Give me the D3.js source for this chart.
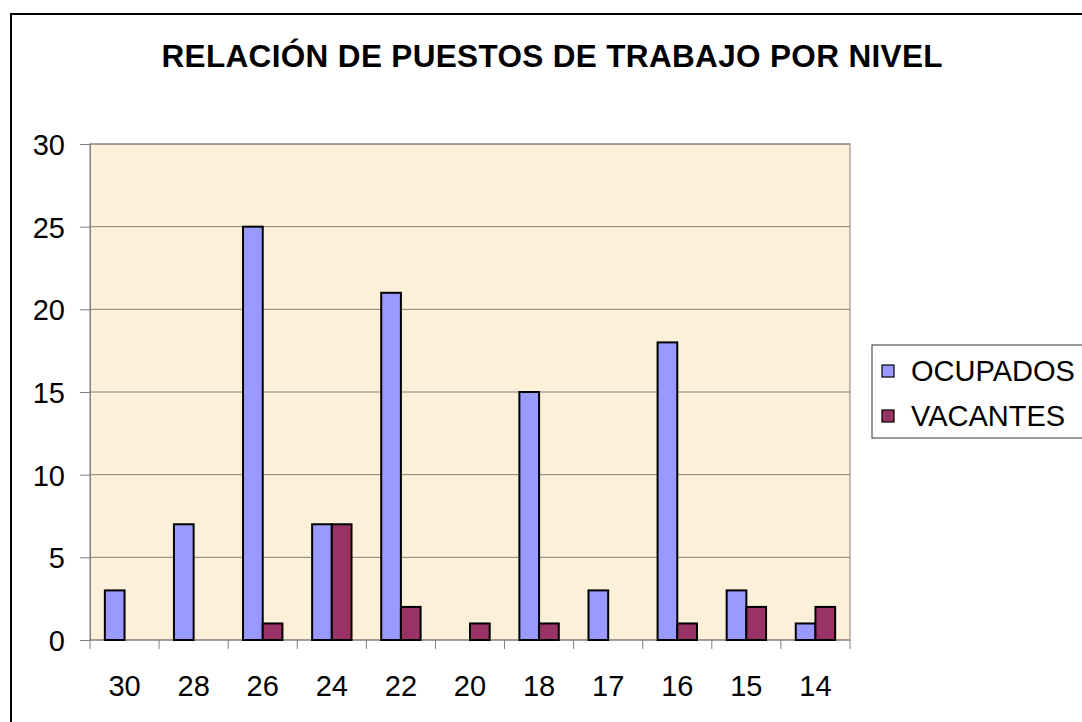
<!DOCTYPE html>
<html>
<head>
<meta charset="utf-8">
<script src="https://cdn.jsdelivr.net/npm/d3@7"></script>
<style>
  body { margin: 0; background: #fff; }
  text { font-family: "Liberation Sans", Arial, sans-serif; fill: #000; }
</style>
</head>
<body>
<div id="vis"></div>
<script>
// chart data
var niveles = ["30", "28", "26", "24", "22", "20", "18", "17", "16", "15", "14"];
var ocupados = [3, 7, 25, 7, 21, 0, 15, 3, 18, 3, 1];
var vacantes = [0, 0, 1, 7, 2, 1, 1, 0, 1, 2, 2];
var yTicks = [0, 5, 10, 15, 20, 25, 30];
var seriesNames = ["OCUPADOS", "VACANTES"];
var seriesColors = ["#9999FF", "#993366"];

var W = 1082, H = 722;
var pl = 90, pr = 850, pt = 144, pb = 640;  // plot area edges

var svg = d3.select("#vis").append("svg")
  .attr("width", W)
  .attr("height", H);

// outer chart border
svg.append("rect")
  .attr("x", 11).attr("y", 14)
  .attr("width", W + 20).attr("height", H + 20)
  .attr("fill", "#fff")
  .attr("stroke", "#000")
  .attr("stroke-width", 2);

// title
svg.append("text")
  .attr("x", 552).attr("y", 67)
  .attr("text-anchor", "middle")
  .attr("font-weight", "bold")
  .attr("font-size", 31.5)
  .attr("textLength", 781)
  .attr("lengthAdjust", "spacing")
  .text("RELACIÓN DE PUESTOS DE TRABAJO POR NIVEL");

var x = d3.scaleBand().domain(niveles).range([pl, pr]);
var y = d3.scaleLinear().domain([0, 30]).range([pb, pt]);

// plot background
svg.append("rect")
  .attr("x", pl).attr("y", pt)
  .attr("width", pr - pl).attr("height", pb - pt)
  .attr("fill", "#FCF0D9")
  .attr("stroke", "#808080")
  .attr("stroke-width", 1);

// gridlines
svg.append("g").selectAll("line")
  .data(yTicks.filter(function(d){ return d > 0; }))
  .enter().append("line")
  .attr("x1", pl).attr("x2", pr)
  .attr("y1", function(d){ return y(d); })
  .attr("y2", function(d){ return y(d); })
  .attr("stroke", "#808080")
  .attr("stroke-width", 1);

// y axis
var yAxis = d3.axisLeft(y).tickValues(yTicks).tickSize(10).tickPadding(14);
var gy = svg.append("g").attr("transform", "translate(" + pl + ",0)").call(yAxis);
gy.select(".domain").attr("stroke", "#808080");
gy.selectAll(".tick line").attr("stroke", "#808080");
gy.selectAll("text").attr("font-size", 29).attr("dy", "0.36em").attr("x", -25)
  .style("font-family", "'Liberation Sans', Arial, sans-serif");

// x axis: ticks at category boundaries
var gx = svg.append("g").attr("transform", "translate(0," + pb + ")");
gx.append("line").attr("x1", pl).attr("x2", pr).attr("stroke", "#808080");
gx.selectAll(".bt")
  .data(d3.range(niveles.length + 1))
  .enter().append("line")
  .attr("class", "bt")
  .attr("x1", function(i){ return pl + i * x.bandwidth(); })
  .attr("x2", function(i){ return pl + i * x.bandwidth(); })
  .attr("y1", 0).attr("y2", 9)
  .attr("stroke", "#808080");
gx.selectAll("text")
  .data(niveles)
  .enter().append("text")
  .attr("x", function(d){ return x(d) + x.bandwidth() / 2; })
  .attr("y", 56)
  .attr("text-anchor", "middle")
  .attr("font-size", 29)
  .text(function(d){ return d; });

// bars
var bw = x.bandwidth() * 0.285;
var off = x.bandwidth() * 0.215;
[ocupados, vacantes].forEach(function(series, s){
  svg.append("g").selectAll("rect")
    .data(niveles.map(function(n, i){ return {n: n, v: series[i]}; })
      .filter(function(d){ return d.v > 0; }))
    .enter().append("rect")
    .attr("x", function(d){ return x(d.n) + off + s * bw; })
    .attr("y", function(d){ return y(d.v); })
    .attr("width", bw)
    .attr("height", function(d){ return y(0) - y(d.v); })
    .attr("fill", seriesColors[s])
    .attr("stroke", "#000")
    .attr("stroke-width", 2);
});

// legend
var lg = svg.append("g");
lg.append("rect")
  .attr("x", 872).attr("y", 345)
  .attr("width", 240).attr("height", 93)
  .attr("fill", "#fff")
  .attr("stroke", "#333")
  .attr("stroke-width", 1);
seriesNames.forEach(function(name, i){
  var cy = 371 + i * 45;
  lg.append("rect")
    .attr("x", 882).attr("y", cy - 6)
    .attr("width", 12).attr("height", 12)
    .attr("fill", seriesColors[i])
    .attr("stroke", "#000")
    .attr("stroke-width", 1.2);
  lg.append("text")
    .attr("x", 911).attr("y", cy + 10)
    .attr("font-size", 29)
    .text(name);
});
</script>
</body>
</html>
